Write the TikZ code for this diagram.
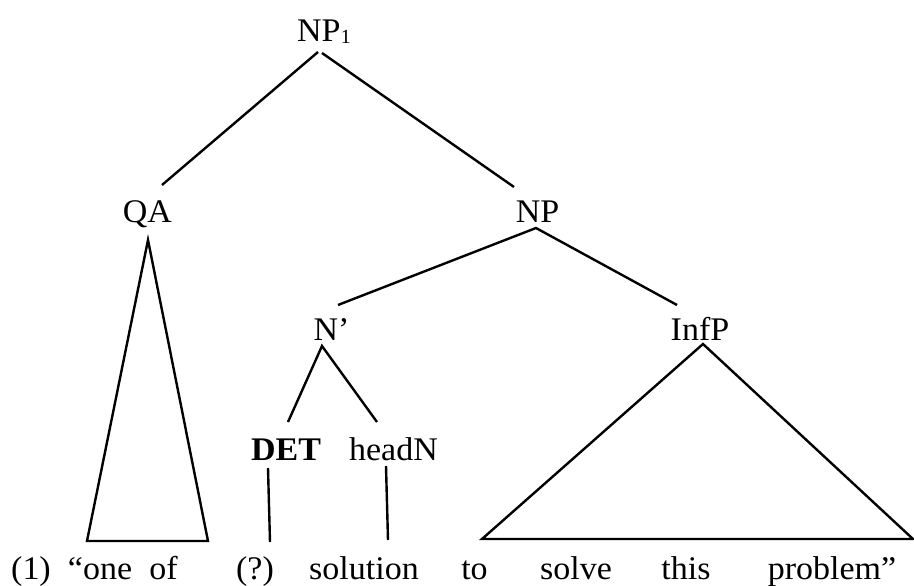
\documentclass[tikz,border=0pt]{standalone}
\usepackage{fontspec}
\setmainfont{Liberation Serif}[FakeStretch=1.03]
\begin{document}
\begin{tikzpicture}[x=1pt,y=-1pt,
  lab/.style={inner sep=0pt,anchor=base,font=\fontsize{33}{39}\selectfont},
  branch/.style={line width=2.4pt}]
\useasboundingbox (0,0) rectangle (914,586);

% category labels
\node[lab] (np1)  at (324,42)  {NP\raisebox{-1.5pt}{\fontsize{20}{21}\selectfont 1}};
\node[lab] (qa)   at (147.5,222) {QA};
\node[lab] (np)   at (537.5,222) {NP};
\node[lab] (nbar) at (331.5,340) {N’};
\node[lab] (infp) at (700,340) {InfP};
\node[lab] (det)  at (286,460) {\bfseries DET};
\node[lab] (headn) at (393.5,460) {headN};

% the example sentence
\node[lab] (w1)  at (31,579)  {(1)};
\node[lab] (w2)  at (100,579) {“one};
\node[lab] (w3)  at (163.5,579) {of};
\node[lab] (w4)  at (255,579) {(?)};
\node[lab] (w5)  at (364,579) {solution};
\node[lab] (w6)  at (474.5,579) {to};
\node[lab] (w7)  at (576,579) {solve};
\node[lab] (w8)  at (686,579) {this};
\node[lab] (w9)  at (832,579) {problem”};

% branches
\draw[branch] ([shift={(-6,10)}]np1.base) -- ([shift={(14.5,-37)}]qa.base);
\draw[branch] ([shift={(-2,11)}]np1.base) -- ([shift={(-23.5,-35)}]np.base);
\draw[branch] ([shift={(6.5,-35)}]nbar.base) -- ([shift={(-1.5,6)}]np.base)
              -- ([shift={(-23,-35)}]infp.base);
\draw[branch] ([shift={(2,-38)}]det.base) -- ([shift={(-9.5,6)}]nbar.base)
              -- ([shift={(-16.5,-38)}]headn.base);
\draw[branch] ([shift={(-18,8)}]det.base) -- ([shift={(15,-37)}]w4.base);
\draw[branch] ([shift={(-7.5,6)}]headn.base) -- ([shift={(24,-39)}]w5.base);

% triangles for unanalysed constituents
\coordinate (qa-l) at (87,541);
\coordinate (qa-r) at (208,541);
\draw[branch] ([shift={(0.5,18)}]qa.base) -- (qa-l) -- (qa-r) -- cycle;
\coordinate (inf-l) at (482,539);
\coordinate (inf-r) at (913,539);
\draw[branch] ([shift={(3,4)}]infp.base) -- (inf-l) -- (inf-r) -- cycle;
\end{tikzpicture}
\end{document}
